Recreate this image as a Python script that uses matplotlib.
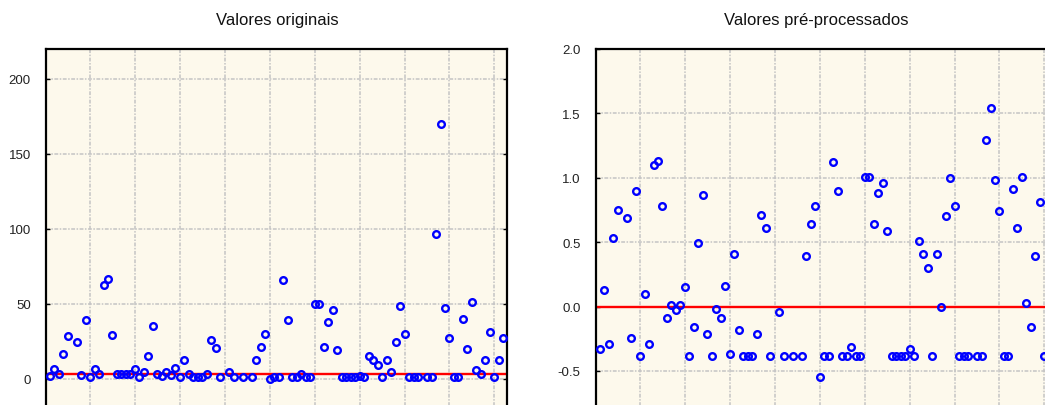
import matplotlib
matplotlib.use("Agg")
import matplotlib.pyplot as plt
from matplotlib.ticker import MultipleLocator, FormatStrFormatter

plt.rcParams['font.family'] = ['Liberation Sans', 'DejaVu Sans']
plt.rcParams['axes.unicode_minus'] = False

# case numbers (6, 40, 43, 45 and 84 have no value)
cases = [1, 2, 3, 4, 5, 7, 8, 9, 10, 11, 12, 13, 14, 15, 16, 17, 18, 19, 20,
         21, 22, 23, 24, 25, 26, 27, 28, 29, 30, 31, 32, 33, 34, 35, 36, 37, 38,
         39, 41, 42, 44, 46, 47, 48, 49, 50, 51, 52, 53, 54, 55, 56, 57, 58, 59,
         60, 61, 62, 63, 64, 65, 66, 67, 68, 69, 70, 71, 72, 73, 74, 75, 76, 77,
         78, 79, 80, 81, 82, 83, 85, 86, 87, 88, 89, 90, 91, 92, 93, 94, 95, 96,
         97, 98, 99, 100, 101, 102]

orig = [1.8, 6.9, 3.1, 16.4, 28.4, 24.4, 2.7, 39.1, 1.6, 6.7, 3.1, 63.0, 67.0,
        29.6, 3.3, 3.5, 3.5, 3.5, 6.7, 1.3, 4.4, 15.1, 35.6, 3.1, 1.8, 4.9, 2.7,
        7.1, 1.6, 12.4, 3.3, 1.6, 1.6, 1.6, 3.3, 25.8, 20.4, 1.6, 4.9, 1.6, 1.6,
        1.6, 12.4, 21.3, 29.8, 0.0, 1.6, 1.6, 65.8, 39.1, 1.6, 1.6, 3.6, 1.6, 1.6,
        49.8, 49.8, 21.1, 37.8, 45.8, 19.1, 1.6, 1.6, 1.6, 1.6, 2.0, 1.6, 15.1,
        12.4, 9.6, 1.6, 12.4, 4.4, 24.4, 48.4, 29.8, 1.6, 1.6, 1.6, 1.6, 1.6,
        96.4, 169.7, 47.6, 27.1, 1.6, 1.6, 40.0, 20.2, 51.1, 6.2, 3.3, 12.4,
        31.1, 1.6, 12.4, 27.1]

prep = [-0.33, 0.13, -0.29, 0.53, 0.75, 0.69, -0.24, 0.90, -0.38, 0.10, -0.29,
        1.10, 1.13, 0.78, -0.085, 0.01, -0.03, 0.01, 0.15, -0.38, -0.16, 0.49,
        0.87, -0.21, -0.38, -0.02, -0.085, 0.16, -0.365, 0.41, -0.18, -0.38,
        -0.38, -0.38, -0.21, 0.715, 0.61, -0.38, -0.04, -0.38, -0.38, -0.38,
        0.39, 0.64, 0.78, -0.55, -0.38, -0.38, 1.12, 0.90, -0.38, -0.38, -0.31,
        -0.38, -0.38, 1.01, 1.01, 0.64, 0.88, 0.96, 0.59, -0.38, -0.38, -0.38,
        -0.38, -0.33, -0.38, 0.51, 0.41, 0.30, -0.38, 0.41, 0.0, 0.70, 0.995,
        0.78, -0.38, -0.38, -0.38, -0.38, -0.38, 1.29, 1.54, 0.98, 0.74, -0.38,
        -0.38, 0.91, 0.61, 1.01, 0.03, -0.16, 0.39, 0.81, -0.38, 0.41, 0.74]

ref_orig = 3.6
ref_prep = 0.0

W, H = 1045, 406
fig = plt.figure(figsize=(W / 100, H / 100), dpi=100)
fig.patch.set_facecolor('white')

bg = '#FDF9EC'
grid_kw = dict(color='#C4C4C4', linewidth=1.1, linestyle=(0, (2.5, 1, 1, 1)))


def panel(rect, y, ylim, major, fmt, ref):
    ax = fig.add_axes(rect)
    ax.set_facecolor(bg)
    ax.plot(cases, y, linestyle='none', marker='o', markersize=4.8,
            markerfacecolor='none', markeredgecolor='#0000FF',
            markeredgewidth=1.7, zorder=3)
    ax.axhline(ref, color='#FF0000', linewidth=1.7, zorder=2)
    ax.set_xlim(0.2, 102.8)
    ax.set_ylim(*ylim)
    ax.xaxis.set_major_locator(MultipleLocator(10))
    ax.yaxis.set_major_locator(MultipleLocator(major))
    ax.yaxis.set_major_formatter(FormatStrFormatter(fmt))
    ax.grid(True, **grid_kw)
    ax.set_axisbelow(True)
    for s in ax.spines.values():
        s.set_linewidth(1.6)
        s.set_color('black')
    ax.tick_params(axis='y', direction='in', length=3, width=1,
                   left=True, right=True, labelsize=9.5, pad=11,
                   labelcolor='#222222')
    ax.tick_params(axis='x', bottom=False, labelbottom=False)
    return ax


ax_h = 367.5
ax_w = 461
bottom = (H - 50 - ax_h) / H

panel([46 / W, bottom, ax_w / W, ax_h / H], orig, (-25, 220), 50, '%d', ref_orig)
panel([596 / W, bottom, ax_w / W, ax_h / H], prep, (2.0 - ax_h / 128.8, 2.0), 0.5,
      '%.1f', ref_prep)

fig.text(277 / W, 1 - 20 / H, 'Valores originais', ha='center', va='center',
         fontsize=12, color='#111111')
fig.text(816 / W, 1 - 20 / H, 'Valores pré-processados', ha='center', va='center',
         fontsize=12, color='#111111')

fig.savefig('out.png', dpi=100)
